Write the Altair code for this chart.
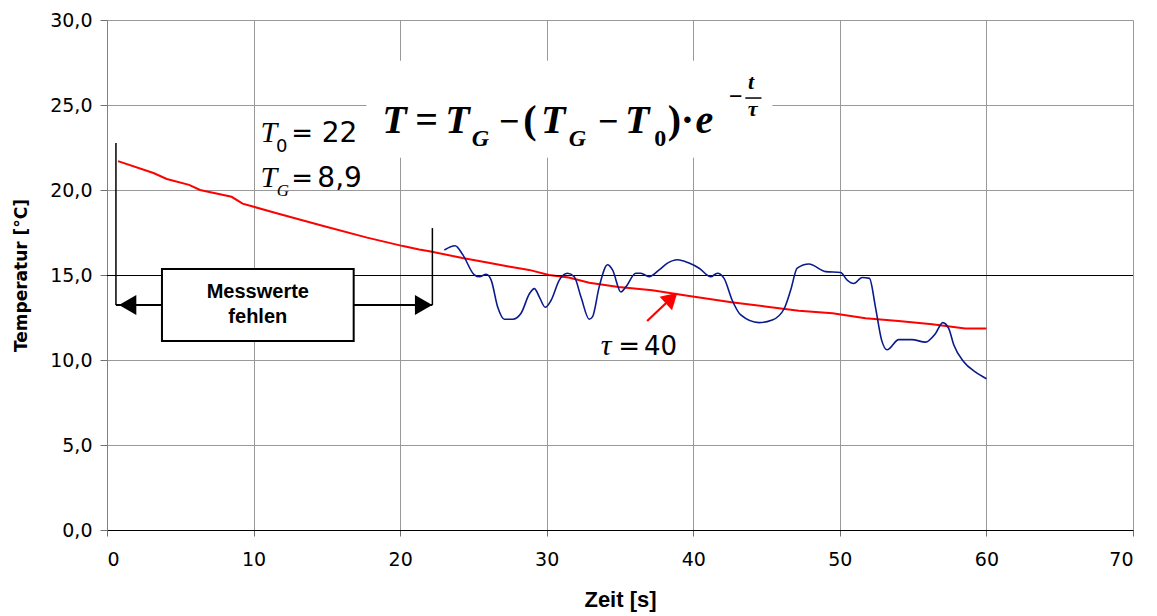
import altair as alt
import pandas as pd

# ---- data ----
blue_t = [23.02, 23.75, 24.27, 25.07, 25.41, 25.87, 26.21, 26.66, 27.11, 27.68, 28.25, 28.82, 29.16, 29.5, 29.9,
          30.29, 30.86, 31.42, 31.88, 32.34, 32.9, 33.13, 33.58, 34.15, 34.49, 35.06, 35.4, 36.08, 36.42, 36.99,
          37.67, 38.24, 38.92, 39.71, 40.4, 41.19, 41.64, 42.1, 42.66, 43.24, 44.48, 45.39, 46.19, 46.64, 47.09,
          47.89, 49.03, 50.05, 50.5, 50.95, 51.52, 52.02, 52.43, 52.84, 53.22, 54.02, 54.92, 55.84, 56.52, 57.02,
          57.43, 57.77, 58.45, 59.24, 60.0]
blue_T = [16.47, 16.72, 16.2, 15.0, 14.9, 15.04, 14.7, 13.1, 12.4, 12.4, 12.75, 13.9, 14.2, 13.7, 13.1,
          13.5, 14.7, 15.1, 14.9, 13.7, 12.4, 12.55, 14.3, 15.6, 15.3, 14.0, 14.3, 15.1, 15.1, 14.9,
          15.3, 15.7, 15.9, 15.7, 15.4, 14.9, 15.1, 14.8, 13.5, 12.65, 12.2, 12.35, 13.0, 14.1, 15.4,
          15.65, 15.2, 15.15, 14.7, 14.5, 14.85, 14.8, 13.1, 11.2, 10.6, 11.2, 11.2, 11.05, 11.55, 12.2,
          11.85, 10.9, 9.9, 9.3, 8.9]

red_t = [0.75, 3.17, 4.08, 5.6, 6.35, 8.5, 9.25, 11.7, 14.7, 17.75, 20.2, 21.3, 22.0, 24.25, 25.85, 27.4,
         28.8, 30.15, 31.5, 32.9, 34.9, 37.2, 39.5, 42.6, 44.9, 47.2, 49.5, 51.75, 54.0, 56.3, 58.55, 60.0]
red_T = [21.7, 21.0, 20.65, 20.3, 20.0, 19.6, 19.2, 18.6, 17.9, 17.2, 16.7, 16.5, 16.4, 16.0, 15.75, 15.5,
         15.3, 15.0, 14.85, 14.55, 14.3, 14.1, 13.8, 13.4, 13.15, 12.9, 12.75, 12.45, 12.3, 12.1, 11.85, 11.85]

x_ticks = [0, 10, 20, 30, 40, 50, 60, 70]
y_ticks = [0, 5, 10, 15, 20, 25, 30]

# annotation geometry (data units)
ref_line = [15.0]
bracket_x = [0.61, 22.2]
bracket_top = [22.76, 17.76]
arrow_y = 13.24
box = dict(x=3.75, x2=16.83, y=11.12, y2=15.35)
formula_bg = dict(x=17.7, x2=45.4, y=21.9, y2=27.6)
tau_arrow = dict(x=36.85, x2=38.15, y=12.29, y2=13.35)

X_TITLE = "Zeit [s]"
Y_TITLE = "Temperatur [°C]"
xs = alt.Scale(domain=[0, 70], nice=False, zero=False)
ys = alt.Scale(domain=[0, 30], nice=False, zero=False)


def X(f="x"):
    return alt.X(f"{f}:Q", scale=xs, title=X_TITLE)


def Y(f="y"):
    return alt.Y(f"{f}:Q", scale=ys, title=Y_TITLE)


# base layer with axes
base = alt.Chart(pd.DataFrame({"x": red_t, "y": red_T})).mark_line(
    color="#ff0000", strokeWidth=2, interpolate="linear"
).encode(
    x=alt.X("x:Q", scale=xs, title=X_TITLE,
            axis=alt.Axis(values=x_ticks, grid=True, gridColor="#999999", gridWidth=1,
                          domainColor="black", domainWidth=1.2, tickColor="#707070", tickSize=6,
                          labelFont="DejaVu Sans", labelFontSize=19, labelColor="black", labelPadding=14,
                          titleFont="Liberation Sans", titleFontSize=22, titleFontWeight="bold",
                          titleColor="black", titleY=59, titleBaseline="top")),
    y=alt.Y("y:Q", scale=ys, title=Y_TITLE,
            axis=alt.Axis(values=y_ticks, grid=True, gridColor="#999999", gridWidth=1,
                          domainColor="#808080", tickColor="#707070", tickSize=7,
                          labelFont="DejaVu Sans", labelFontSize=19, labelColor="black", labelPadding=8,
                          labelExpr="replace(format(datum.value, '.1f'), '.', ',')",
                          titleFont="DejaVu Sans", titleFontSize=17, titleFontWeight="bold",
                          titleColor="black", titleX=-81, titleBaseline="alphabetic")),
)

bg = alt.Chart(pd.DataFrame([formula_bg])).mark_rect(color="white").encode(
    x=X(), x2="x2:Q", y=Y(), y2="y2:Q")

hline = alt.Chart(pd.DataFrame({"y": ref_line})).mark_rule(
    color="black", strokeWidth=1, yOffset=0.5).encode(
    y=Y(), x=alt.value(0), x2=alt.value(1026))

red = base
blue = alt.Chart(pd.DataFrame({"x": blue_t, "y": blue_T})).mark_line(
    color="#0a1a8c", strokeWidth=1.6, interpolate="monotone").encode(x=X(), y=Y())

seg = pd.DataFrame({
    "x": [bracket_x[0], bracket_x[1], bracket_x[0], tau_arrow["x"]],
    "x2": [bracket_x[0], bracket_x[1], bracket_x[1], tau_arrow["x2"]],
    "y": [arrow_y, arrow_y, arrow_y, tau_arrow["y"]],
    "y2": [bracket_top[0], bracket_top[1], arrow_y, tau_arrow["y2"]],
    "c": ["black", "black", "black", "#ff0000"],
    "w": [1.5, 1.5, 2.0, 2.2],
})
segs = alt.Chart(seg).mark_rule().encode(
    x=X(), x2="x2:Q", y=Y(), y2="y2:Q",
    color=alt.Color("c:N", scale=None), strokeWidth=alt.StrokeWidth("w:Q", scale=None))

boxm = alt.Chart(pd.DataFrame([box])).mark_rect(fill="white", stroke="black", strokeWidth=2).encode(
    x=X(), x2="x2:Q", y=Y(), y2="y2:Q")

heads = pd.DataFrame({
    "x": [1.41, 21.6, 38.52],
    "y": [arrow_y, arrow_y, 13.64],
    "shape": ["triangle-left", "triangle-right", "triangle-up"],
    "a": [0, 0, 47],
    "s": [400, 400, 330],
    "c": ["black", "black", "#ff0000"],
})
headm = alt.Chart(heads).mark_point(filled=True, opacity=1, strokeWidth=0).encode(
    x=X(), y=Y(), shape=alt.Shape("shape:N", scale=None), angle=alt.Angle("a:Q", scale=None),
    size=alt.Size("s:Q", scale=None), color=alt.Color("c:N", scale=None))


def texts(rows, font, style="normal", weight="normal", baseline="alphabetic"):
    df = pd.DataFrame(rows, columns=["t", "x", "y", "s"])
    return alt.Chart(df).mark_text(font=font, fontStyle=style, fontWeight=weight, align="center",
                                   baseline=baseline, color="black").encode(
        x=X(), y=Y(), text="t:N", size=alt.Size("s:Q", scale=None))


box_text = texts([["Messwerte", 10.29, 14.0, 20], ["fehlen", 10.29, 12.53, 20]],
                 "Liberation Sans", weight="bold", baseline="middle")

# formula  T = T_G - (T_G - T_0) * e^(-t/tau)
f_italic = texts([["T", 19.62, 23.35, 40], ["T", 23.91, 23.35, 40], ["G", 25.48, 22.59, 24],
                  ["T", 30.45, 23.35, 40], ["G", 32.1, 22.59, 24], ["T", 36.17, 23.35, 40],
                  ["e", 40.75, 23.35, 40], ["t", 43.95, 25.95, 22], ["τ", 44.05, 24.35, 22]],
                 "Liberation Serif", style="italic", weight="bold")
f_upright = texts([["=", 21.80, 23.35, 40], ["−", 27.45, 23.35, 36], ["(", 28.85, 23.35, 40],
                   ["−", 34.20, 23.35, 36], ["0", 37.75, 22.59, 24], [")", 38.72, 23.35, 40],
                   ["·", 39.6, 23.35, 40], ["−", 42.9, 25.05, 24]],
                  "Liberation Serif", weight="bold")
f_bar = alt.Chart(pd.DataFrame({"x": [43.55], "x2": [44.65], "y": [25.41]})).mark_rule(
    color="black", strokeWidth=1.5).encode(x=X(), x2="x2:Q", y=Y())

# parameters
p_italic = texts([["T", 11.05, 22.82, 30], ["T", 11.05, 20.18, 30], ["G", 12.0, 19.62, 17],
                  ["τ", 34.06, 10.29, 30]], "Liberation Serif", style="italic")
p_upright = texts([["0", 11.92, 22.25, 18], ["=", 13.32, 22.82, 26], ["22", 15.87, 22.82, 28],
                   ["=", 13.32, 20.18, 26], ["8,9", 15.87, 20.18, 28],
                   ["=", 35.63, 10.29, 26], ["40", 37.77, 10.29, 26]], "DejaVu Sans")

chart = alt.layer(
    red, bg, hline, blue, segs, boxm, box_text, headm,
    f_italic, f_upright, f_bar, p_italic, p_upright
).properties(
    width=1026, height=510,
    autosize=alt.AutoSizeParams(type="none"),
    padding={"left": 99, "top": 12, "right": 14, "bottom": 84},
).configure_view(stroke=None).configure(background="white")

chart.save("out.html", embed_options={"renderer": "svg", "actions": False})
